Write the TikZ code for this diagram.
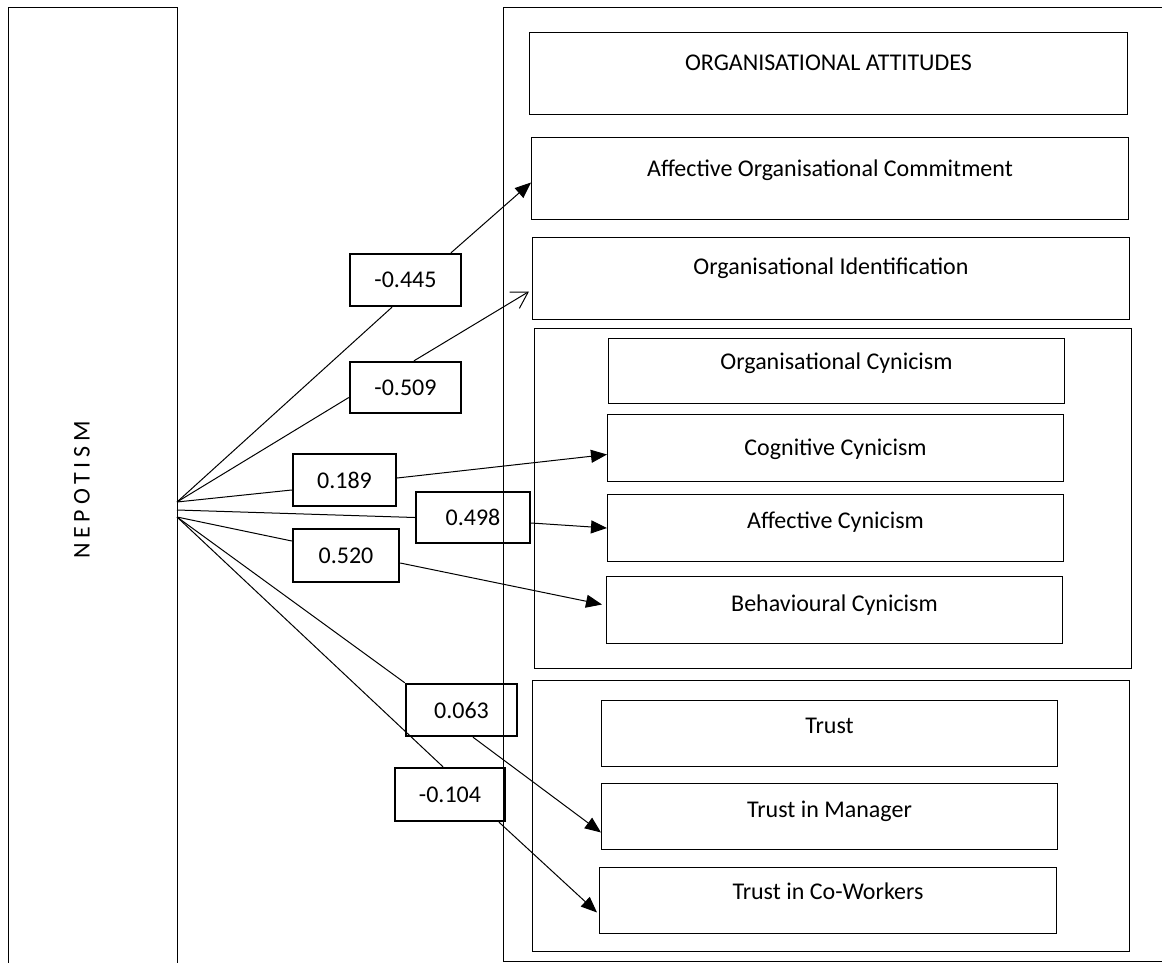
\documentclass[tikz,border=0pt]{standalone}
\usepackage{fontspec}
\setmainfont{Carlito}
\usetikzlibrary{arrows.meta}
\begin{document}
\begin{tikzpicture}[x=0.5pt,y=-0.5pt,
  attbox/.style={draw,line width=0.5pt,inner sep=0pt,anchor=north west,font=\fontsize{12}{14}\selectfont},
  grpbox/.style={draw,line width=0.5pt,inner sep=0pt,anchor=north west},
  coef/.style={draw,line width=1.2pt,inner sep=0pt,font=\fontsize{12}{14}\selectfont},
  link/.style={line width=0.5pt},
  solidtip/.style={link,-{Triangle[length=8pt,width=6.5pt]}},
  opentip/.style={link,-{Straight Barb[length=8pt,width=9.5pt]}}]
  \useasboundingbox (0,0) rectangle (1162,963);
  \node[grpbox,minimum width=84.5pt,minimum height=490pt] (nepbox) at (8,7) {};
  \node[rotate=90,font=\fontsize{12}{14}\selectfont\addfontfeature{LetterSpace=20}] (neptext) at (82,490) {NEPOTISM};
  \node[grpbox,minimum width=340pt,minimum height=477pt] (outer) at (503,7) {};
  \node[attbox,minimum width=299pt,text height=19pt,text depth=22pt] (attitudes) at (529,32) {ORGANISATIONAL ATTITUDES};
  \node[attbox,minimum width=298.5pt,text height=19.5pt,text depth=21.5pt] (commit) at (531,137) {Affective Organisational Commitment};
  \node[attbox,minimum width=298.5pt,text height=18.5pt,text depth=22.5pt] (ident) at (532,237) {Organisational Identification};
  \node[grpbox,minimum width=298.5pt,minimum height=170pt] (cyngroup) at (534,328) {};
  \node[attbox,minimum width=228pt,text height=15.5pt,text depth=17pt] (orgcyn) at (608,338) {Organisational Cynicism};
  \node[attbox,minimum width=228pt,text height=20.5pt,text depth=13pt] (cogcyn) at (607,414) {Cognitive Cynicism};
  \node[attbox,minimum width=228pt,text height=17pt,text depth=16.5pt] (affcyn) at (607,494) {Affective Cynicism};
  \node[attbox,minimum width=228pt,text height=17.5pt,text depth=16pt] (behcyn) at (606,576) {Behavioural Cynicism};
  \node[grpbox,minimum width=298.5pt,minimum height=135.5pt] (trustgroup) at (532,680) {};
  \node[attbox,minimum width=228pt,text height=16.5pt,text depth=16.5pt] (trust) at (601,700) {Trust};
  \node[attbox,minimum width=228pt,text height=17pt,text depth=16pt] (trustman) at (601,783) {Trust in Manager};
  \node[attbox,minimum width=228.5pt,text height=16pt,text depth=17pt] (trustcow) at (599,867) {Trust in Co-Workers};
  \node[coef,minimum width=55.5pt,minimum height=26pt] (l445) at (405.5,280) {-0.445};
  \node[coef,minimum width=55.5pt,minimum height=25.5pt] (l509) at (405.5,387.5) {-0.509};
  \node[coef,minimum width=51.5pt,minimum height=26pt] (l189) at (344.5,480) {0.189};
  \node[coef,minimum width=57pt,minimum height=25.5pt] (l498) at (473,517.5) {0.498};
  \node[coef,minimum width=53pt,minimum height=26.5pt] (l520) at (346,555.5) {0.520};
  \node[coef,minimum width=55.5pt,minimum height=26pt] (l063) at (461.5,710) {0.063};
  \node[coef,minimum width=55pt,minimum height=26.5pt] (l104) at (450,794.5) {-0.104};
  \coordinate (fanA) at (177,502);
  \coordinate (fanB) at (177,510);
  \coordinate (fanC) at (177,517);
  \draw[link](fanA)--([xshift=-6.75pt]l445.south);
  \draw[solidtip]([xshift=22.75pt]l445.north)--([yshift=-2pt]commit.west);
  \draw[link](fanA)--([yshift=-5pt]l509.west);
  \draw[opentip]([xshift=4.25pt]l509.north)--([xshift=-1.5pt,yshift=-6.5pt]ident.west);
  \draw[link](fanA)--([yshift=-5pt]l189.west);
  \draw[solidtip]([yshift=1pt]l189.east)--([yshift=-3.25pt]cogcyn.west);
  \draw[link](fanB)--(l498.west);
  \draw[solidtip]([yshift=-2.75pt]l498.east)--(affcyn.west);
  \draw[link](fanC)--([yshift=7.25pt]l520.west);
  \draw[solidtip]([yshift=-3.75pt]l520.east)--([xshift=-2pt,yshift=2.75pt]behcyn.west);
  \draw[link](fanC)--(l063.north west);
  \draw[solidtip]([xshift=5.75pt]l063.south)--([yshift=-8pt]trustman.west);
  \draw[link](fanC)--([xshift=-3.5pt]l104.north);
  \draw[solidtip]([xshift=24.5pt]l104.south)--([xshift=-1pt,yshift=-6pt]trustcow.west);
\end{tikzpicture}
\end{document}
